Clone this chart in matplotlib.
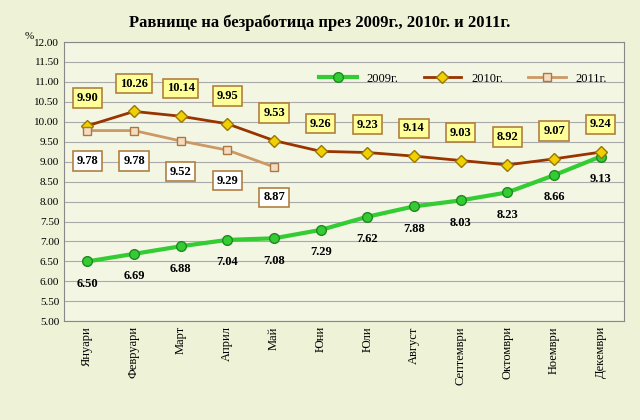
import matplotlib
matplotlib.use("Agg")
import matplotlib.pyplot as plt

months = ["Януари","Февруари","Март","Април","Май","Юни","Юли","Август","Септември","Октомври","Ноември","Декември"]
y2009 = [6.50,6.69,6.88,7.04,7.08,7.29,7.62,7.88,8.03,8.23,8.66,9.13]
y2010 = [9.90,10.26,10.14,9.95,9.53,9.26,9.23,9.14,9.03,8.92,9.07,9.24]
y2011 = [9.78,9.78,9.52,9.29,8.87]

plt.rcParams['font.family'] = ['Liberation Serif','DejaVu Serif']
fig = plt.figure(figsize=(6.4,4.2), dpi=100, facecolor='#eef2d6')
ax = fig.add_axes([0.10,0.235,0.875,0.665])
ax.set_facecolor('#f4f6e4')
x = list(range(len(months)))
ax.plot(x, y2009, color='#33cc33', lw=3, marker='o', ms=7, mfc='#33cc33', mec='#228822', label='2009г.', zorder=3)
ax.plot(x, y2010, color='#993300', lw=2, marker='D', ms=6, mfc='#f0d000', mec='#997700', label='2010г.', zorder=3)
ax.plot(x[:5], y2011, color='#cc9966', lw=2, marker='s', ms=6, mfc='#f5dcc0', mec='#aa7744', label='2011г.', zorder=3)
for i,v in enumerate(y2010):
    ax.annotate(f"{v:.2f}", (i,v), xytext=(0,20), textcoords='offset points', ha='center', va='center',
                fontsize=9, fontweight='bold', bbox=dict(boxstyle='square,pad=0.3', fc='#ffff99', ec='#b08040', lw=1.2))
for i,v in enumerate(y2011):
    ax.annotate(f"{v:.2f}", (i,v), xytext=(0,-22), textcoords='offset points', ha='center', va='center',
                fontsize=9, fontweight='bold', bbox=dict(boxstyle='square,pad=0.3', fc='white', ec='#b08040', lw=1.2))
for i,v in enumerate(y2009):
    ax.annotate(f"{v:.2f}", (i,v), xytext=(0,-16), textcoords='offset points', ha='center', va='center',
                fontsize=9, fontweight='bold')
ax.set_ylim(5,12)
ax.set_yticks([5+0.5*k for k in range(15)])
ax.set_yticklabels([f"{5+0.5*k:.2f}" for k in range(15)], fontsize=8)
ax.set_xlim(-0.5,11.5)
ax.set_xticks(x)
ax.set_xticklabels(months, rotation=90, fontsize=9)
ax.grid(axis='y', color='#aaaaaa', lw=0.8)
ax.set_axisbelow(True)
ax.tick_params(length=0)
for s in ax.spines.values(): s.set_color('#888888')
ax.text(-0.07,1.01,'%',transform=ax.transAxes,fontsize=8)
ax.legend(loc='upper right', bbox_to_anchor=(0.99,0.93), ncol=3, frameon=False, fontsize=9, handlelength=3)
fig.suptitle('Равнище на безработица през 2009г., 2010г. и 2011г.', y=0.965, fontsize=12, fontweight='bold')
fig.savefig('out.png', dpi=100, facecolor=fig.get_facecolor())
